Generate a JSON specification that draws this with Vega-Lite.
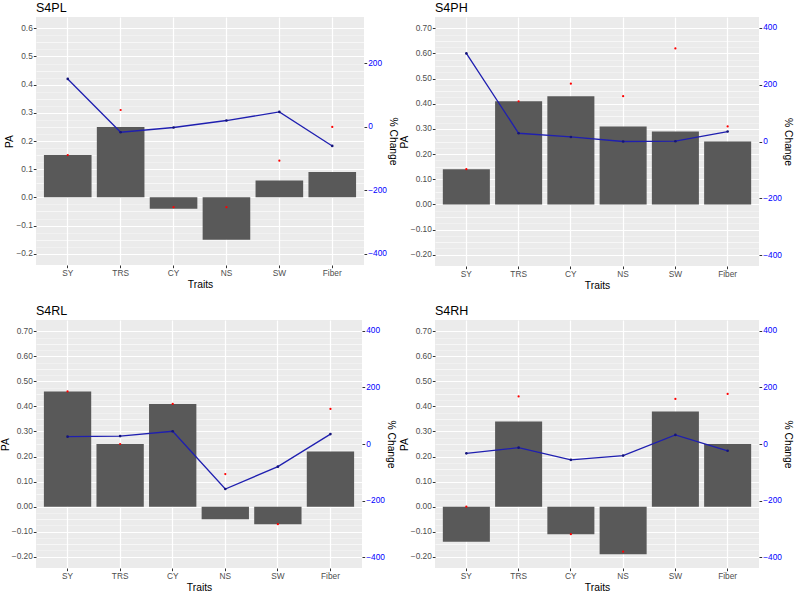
{
  "$schema": "https://vega.github.io/schema/vega-lite/v6.json",
  "background": "white",
  "padding": {"left": 0, "top": 1, "right": 2, "bottom": 1},
  "datasets": {
    "s4pl": [
      {"Trait": "SY", "PA": 0.15, "PA_ref": 0.15, "Change": 150},
      {"Trait": "TRS", "PA": 0.25, "PA_ref": 0.31, "Change": -18},
      {"Trait": "CY", "PA": -0.04, "PA_ref": -0.035, "Change": -3},
      {"Trait": "NS", "PA": -0.15, "PA_ref": -0.035, "Change": 19},
      {"Trait": "SW", "PA": 0.06, "PA_ref": 0.13, "Change": 46},
      {"Trait": "Fiber", "PA": 0.09, "PA_ref": 0.25, "Change": -61}
    ],
    "s4ph": [
      {"Trait": "SY", "PA": 0.14, "PA_ref": 0.14, "Change": 310},
      {"Trait": "TRS", "PA": 0.41, "PA_ref": 0.41, "Change": 29},
      {"Trait": "CY", "PA": 0.43, "PA_ref": 0.48, "Change": 16},
      {"Trait": "NS", "PA": 0.31, "PA_ref": 0.43, "Change": 0},
      {"Trait": "SW", "PA": 0.29, "PA_ref": 0.62, "Change": 1},
      {"Trait": "Fiber", "PA": 0.25, "PA_ref": 0.31, "Change": 35}
    ],
    "s4rl": [
      {"Trait": "SY", "PA": 0.46, "PA_ref": 0.46, "Change": 26},
      {"Trait": "TRS", "PA": 0.25, "PA_ref": 0.25, "Change": 28},
      {"Trait": "CY", "PA": 0.41, "PA_ref": 0.41, "Change": 45},
      {"Trait": "NS", "PA": -0.05, "PA_ref": 0.13, "Change": -159},
      {"Trait": "SW", "PA": -0.07, "PA_ref": -0.07, "Change": -80},
      {"Trait": "Fiber", "PA": 0.22, "PA_ref": 0.39, "Change": 35}
    ],
    "s4rh": [
      {"Trait": "SY", "PA": -0.14, "PA_ref": 0.0, "Change": -33},
      {"Trait": "TRS", "PA": 0.34, "PA_ref": 0.44, "Change": -13},
      {"Trait": "CY", "PA": -0.11, "PA_ref": -0.11, "Change": -56},
      {"Trait": "NS", "PA": -0.19, "PA_ref": -0.18, "Change": -41},
      {"Trait": "SW", "PA": 0.38, "PA_ref": 0.43, "Change": 32},
      {"Trait": "Fiber", "PA": 0.25, "PA_ref": 0.45, "Change": -24}
    ]
  },
  "columns": 2,
  "spacing": {"row": 13, "column": 1},
  "concat": [
    {
      "title": "S4PL",
      "width": 328,
      "height": 248,
      "data": {"name": "s4pl"},
      "layer": [
        {
          "layer": [
            {
              "mark": {"type": "bar", "color": "#595959"},
              "encoding": {
                "x": {"field": "Trait", "type": "nominal", "sort": ["SY", "TRS", "CY", "NS", "SW", "Fiber"], "scale": {"paddingInner": 0.1, "paddingOuter": 0.15}, "axis": {"title": "Traits", "labelAngle": 0, "bandPosition": 0.5, "grid": true, "gridWidth": 1.2}},
                "y": {
                  "field": "PA", "type": "quantitative",
                  "scale": {"domain": [-0.24, 0.64], "nice": false, "zero": false},
                  "axis": {
                    "title": "PA", "format": ".1f", "labelOverlap": false,
                    "values": [-0.2, -0.175, -0.15, -0.125, -0.1, -0.075, -0.05, -0.025, 0, 0.025, 0.05, 0.075, 0.1, 0.125, 0.15, 0.175, 0.2, 0.225, 0.25, 0.275, 0.3, 0.325, 0.35, 0.375, 0.4, 0.425, 0.45, 0.475, 0.5, 0.525, 0.55, 0.575, 0.6],
                    "labelExpr": "abs(datum.value*10 - round(datum.value*10)) < 0.001 ? datum.label : ''",
                    "tickOpacity": {"condition": {"test": "abs(datum.value*10 - round(datum.value*10)) < 0.001", "value": 1}, "value": 0},
                    "gridWidth": {"condition": {"test": "abs(datum.value*10 - round(datum.value*10)) < 0.001", "value": 1.2}, "value": 0.6},
                    "gridOpacity": {"condition": {"test": "abs(datum.value*20 - round(datum.value*20)) < 0.001", "value": 1}, "value": 0.5}
                  }
                }
              }
            },
            {
              "mark": {"type": "point", "filled": true, "color": "#FF0000", "size": 5, "opacity": 1},
              "encoding": {
                "x": {"field": "Trait", "type": "nominal", "sort": ["SY", "TRS", "CY", "NS", "SW", "Fiber"]},
                "y": {
                  "field": "PA_ref", "type": "quantitative",
                  "axis": {
                    "title": "PA", "format": ".1f", "labelOverlap": false,
                    "values": [-0.2, -0.175, -0.15, -0.125, -0.1, -0.075, -0.05, -0.025, 0, 0.025, 0.05, 0.075, 0.1, 0.125, 0.15, 0.175, 0.2, 0.225, 0.25, 0.275, 0.3, 0.325, 0.35, 0.375, 0.4, 0.425, 0.45, 0.475, 0.5, 0.525, 0.55, 0.575, 0.6],
                    "labelExpr": "abs(datum.value*10 - round(datum.value*10)) < 0.001 ? datum.label : ''",
                    "tickOpacity": {"condition": {"test": "abs(datum.value*10 - round(datum.value*10)) < 0.001", "value": 1}, "value": 0},
                    "gridWidth": {"condition": {"test": "abs(datum.value*10 - round(datum.value*10)) < 0.001", "value": 1.2}, "value": 0.6},
                    "gridOpacity": {"condition": {"test": "abs(datum.value*20 - round(datum.value*20)) < 0.001", "value": 1}, "value": 0.5}
                  }
                }
              }
            }
          ]
        },
        {
          "layer": [
            {
              "mark": {"type": "line", "color": "#1F1FB0", "strokeWidth": 1.3},
              "encoding": {
                "x": {"field": "Trait", "type": "nominal", "sort": ["SY", "TRS", "CY", "NS", "SW", "Fiber"]},
                "y": {
                  "field": "Change", "type": "quantitative",
                  "scale": {"domain": [-436, 345], "nice": false, "zero": false},
                  "axis": {"orient": "right", "title": "% Change", "grid": false, "values": [-400, -300, -200, -100, 0, 100, 200, 300], "labelColor": "#0000FF"}
                }
              }
            },
            {
              "mark": {"type": "point", "filled": true, "color": "#14147A", "size": 7, "opacity": 1},
              "encoding": {
                "x": {"field": "Trait", "type": "nominal", "sort": ["SY", "TRS", "CY", "NS", "SW", "Fiber"]},
                "y": {"field": "Change", "type": "quantitative"}
              }
            }
          ]
        }
      ],
      "resolve": {"scale": {"y": "independent"}}
    },
    {
      "title": "S4PH",
      "width": 324,
      "height": 249,
      "data": {"name": "s4ph"},
      "layer": [
        {
          "layer": [
            {
              "mark": {"type": "bar", "color": "#595959"},
              "encoding": {
                "x": {"field": "Trait", "type": "nominal", "sort": ["SY", "TRS", "CY", "NS", "SW", "Fiber"], "scale": {"paddingInner": 0.1, "paddingOuter": 0.15}, "axis": {"title": "Traits", "labelAngle": 0, "bandPosition": 0.5, "grid": true, "gridWidth": 1.2}},
                "y": {
                  "field": "PA", "type": "quantitative",
                  "scale": {"domain": [-0.245, 0.745], "nice": false, "zero": false},
                  "axis": {
                    "title": "PA", "format": ".2f", "labelOverlap": false,
                    "values": [-0.2, -0.175, -0.15, -0.125, -0.1, -0.075, -0.05, -0.025, 0, 0.025, 0.05, 0.075, 0.1, 0.125, 0.15, 0.175, 0.2, 0.225, 0.25, 0.275, 0.3, 0.325, 0.35, 0.375, 0.4, 0.425, 0.45, 0.475, 0.5, 0.525, 0.55, 0.575, 0.6, 0.625, 0.65, 0.675, 0.7],
                    "labelExpr": "abs(datum.value*10 - round(datum.value*10)) < 0.001 ? datum.label : ''",
                    "tickOpacity": {"condition": {"test": "abs(datum.value*10 - round(datum.value*10)) < 0.001", "value": 1}, "value": 0},
                    "gridWidth": {"condition": {"test": "abs(datum.value*10 - round(datum.value*10)) < 0.001", "value": 1.2}, "value": 0.6},
                    "gridOpacity": {"condition": {"test": "abs(datum.value*20 - round(datum.value*20)) < 0.001", "value": 1}, "value": 0.5}
                  }
                }
              }
            },
            {
              "mark": {"type": "point", "filled": true, "color": "#FF0000", "size": 5, "opacity": 1},
              "encoding": {
                "x": {"field": "Trait", "type": "nominal", "sort": ["SY", "TRS", "CY", "NS", "SW", "Fiber"]},
                "y": {
                  "field": "PA_ref", "type": "quantitative",
                  "axis": {
                    "title": "PA", "format": ".2f", "labelOverlap": false,
                    "values": [-0.2, -0.175, -0.15, -0.125, -0.1, -0.075, -0.05, -0.025, 0, 0.025, 0.05, 0.075, 0.1, 0.125, 0.15, 0.175, 0.2, 0.225, 0.25, 0.275, 0.3, 0.325, 0.35, 0.375, 0.4, 0.425, 0.45, 0.475, 0.5, 0.525, 0.55, 0.575, 0.6, 0.625, 0.65, 0.675, 0.7],
                    "labelExpr": "abs(datum.value*10 - round(datum.value*10)) < 0.001 ? datum.label : ''",
                    "tickOpacity": {"condition": {"test": "abs(datum.value*10 - round(datum.value*10)) < 0.001", "value": 1}, "value": 0},
                    "gridWidth": {"condition": {"test": "abs(datum.value*10 - round(datum.value*10)) < 0.001", "value": 1.2}, "value": 0.6},
                    "gridOpacity": {"condition": {"test": "abs(datum.value*20 - round(datum.value*20)) < 0.001", "value": 1}, "value": 0.5}
                  }
                }
              }
            }
          ]
        },
        {
          "layer": [
            {
              "mark": {"type": "line", "color": "#1F1FB0", "strokeWidth": 1.3},
              "encoding": {
                "x": {"field": "Trait", "type": "nominal", "sort": ["SY", "TRS", "CY", "NS", "SW", "Fiber"]},
                "y": {
                  "field": "Change", "type": "quantitative",
                  "scale": {"domain": [-438, 438], "nice": false, "zero": false},
                  "axis": {"orient": "right", "title": "% Change", "grid": false, "values": [-400, -300, -200, -100, 0, 100, 200, 300, 400], "labelColor": "#0000FF"}
                }
              }
            },
            {
              "mark": {"type": "point", "filled": true, "color": "#14147A", "size": 7, "opacity": 1},
              "encoding": {
                "x": {"field": "Trait", "type": "nominal", "sort": ["SY", "TRS", "CY", "NS", "SW", "Fiber"]},
                "y": {"field": "Change", "type": "quantitative"}
              }
            }
          ]
        }
      ],
      "resolve": {"scale": {"y": "independent"}}
    },
    {
      "title": "S4RL",
      "width": 326,
      "height": 248,
      "data": {"name": "s4rl"},
      "layer": [
        {
          "layer": [
            {
              "mark": {"type": "bar", "color": "#595959"},
              "encoding": {
                "x": {"field": "Trait", "type": "nominal", "sort": ["SY", "TRS", "CY", "NS", "SW", "Fiber"], "scale": {"paddingInner": 0.1, "paddingOuter": 0.15}, "axis": {"title": "Traits", "labelAngle": 0, "bandPosition": 0.5, "grid": true, "gridWidth": 1.2}},
                "y": {
                  "field": "PA", "type": "quantitative",
                  "scale": {"domain": [-0.245, 0.745], "nice": false, "zero": false},
                  "axis": {
                    "title": "PA", "format": ".2f", "labelOverlap": false,
                    "values": [-0.2, -0.175, -0.15, -0.125, -0.1, -0.075, -0.05, -0.025, 0, 0.025, 0.05, 0.075, 0.1, 0.125, 0.15, 0.175, 0.2, 0.225, 0.25, 0.275, 0.3, 0.325, 0.35, 0.375, 0.4, 0.425, 0.45, 0.475, 0.5, 0.525, 0.55, 0.575, 0.6, 0.625, 0.65, 0.675, 0.7],
                    "labelExpr": "abs(datum.value*10 - round(datum.value*10)) < 0.001 ? datum.label : ''",
                    "tickOpacity": {"condition": {"test": "abs(datum.value*10 - round(datum.value*10)) < 0.001", "value": 1}, "value": 0},
                    "gridWidth": {"condition": {"test": "abs(datum.value*10 - round(datum.value*10)) < 0.001", "value": 1.2}, "value": 0.6},
                    "gridOpacity": {"condition": {"test": "abs(datum.value*20 - round(datum.value*20)) < 0.001", "value": 1}, "value": 0.5}
                  }
                }
              }
            },
            {
              "mark": {"type": "point", "filled": true, "color": "#FF0000", "size": 5, "opacity": 1},
              "encoding": {
                "x": {"field": "Trait", "type": "nominal", "sort": ["SY", "TRS", "CY", "NS", "SW", "Fiber"]},
                "y": {
                  "field": "PA_ref", "type": "quantitative",
                  "axis": {
                    "title": "PA", "format": ".2f", "labelOverlap": false,
                    "values": [-0.2, -0.175, -0.15, -0.125, -0.1, -0.075, -0.05, -0.025, 0, 0.025, 0.05, 0.075, 0.1, 0.125, 0.15, 0.175, 0.2, 0.225, 0.25, 0.275, 0.3, 0.325, 0.35, 0.375, 0.4, 0.425, 0.45, 0.475, 0.5, 0.525, 0.55, 0.575, 0.6, 0.625, 0.65, 0.675, 0.7],
                    "labelExpr": "abs(datum.value*10 - round(datum.value*10)) < 0.001 ? datum.label : ''",
                    "tickOpacity": {"condition": {"test": "abs(datum.value*10 - round(datum.value*10)) < 0.001", "value": 1}, "value": 0},
                    "gridWidth": {"condition": {"test": "abs(datum.value*10 - round(datum.value*10)) < 0.001", "value": 1.2}, "value": 0.6},
                    "gridOpacity": {"condition": {"test": "abs(datum.value*20 - round(datum.value*20)) < 0.001", "value": 1}, "value": 0.5}
                  }
                }
              }
            }
          ]
        },
        {
          "layer": [
            {
              "mark": {"type": "line", "color": "#1F1FB0", "strokeWidth": 1.3},
              "encoding": {
                "x": {"field": "Trait", "type": "nominal", "sort": ["SY", "TRS", "CY", "NS", "SW", "Fiber"]},
                "y": {
                  "field": "Change", "type": "quantitative",
                  "scale": {"domain": [-438, 438], "nice": false, "zero": false},
                  "axis": {"orient": "right", "title": "% Change", "grid": false, "values": [-400, -300, -200, -100, 0, 100, 200, 300, 400], "labelColor": "#0000FF"}
                }
              }
            },
            {
              "mark": {"type": "point", "filled": true, "color": "#14147A", "size": 7, "opacity": 1},
              "encoding": {
                "x": {"field": "Trait", "type": "nominal", "sort": ["SY", "TRS", "CY", "NS", "SW", "Fiber"]},
                "y": {"field": "Change", "type": "quantitative"}
              }
            }
          ]
        }
      ],
      "resolve": {"scale": {"y": "independent"}}
    },
    {
      "title": "S4RH",
      "width": 324,
      "height": 248,
      "data": {"name": "s4rh"},
      "layer": [
        {
          "layer": [
            {
              "mark": {"type": "bar", "color": "#595959"},
              "encoding": {
                "x": {"field": "Trait", "type": "nominal", "sort": ["SY", "TRS", "CY", "NS", "SW", "Fiber"], "scale": {"paddingInner": 0.1, "paddingOuter": 0.15}, "axis": {"title": "Traits", "labelAngle": 0, "bandPosition": 0.5, "grid": true, "gridWidth": 1.2}},
                "y": {
                  "field": "PA", "type": "quantitative",
                  "scale": {"domain": [-0.245, 0.745], "nice": false, "zero": false},
                  "axis": {
                    "title": "PA", "format": ".2f", "labelOverlap": false,
                    "values": [-0.2, -0.175, -0.15, -0.125, -0.1, -0.075, -0.05, -0.025, 0, 0.025, 0.05, 0.075, 0.1, 0.125, 0.15, 0.175, 0.2, 0.225, 0.25, 0.275, 0.3, 0.325, 0.35, 0.375, 0.4, 0.425, 0.45, 0.475, 0.5, 0.525, 0.55, 0.575, 0.6, 0.625, 0.65, 0.675, 0.7],
                    "labelExpr": "abs(datum.value*10 - round(datum.value*10)) < 0.001 ? datum.label : ''",
                    "tickOpacity": {"condition": {"test": "abs(datum.value*10 - round(datum.value*10)) < 0.001", "value": 1}, "value": 0},
                    "gridWidth": {"condition": {"test": "abs(datum.value*10 - round(datum.value*10)) < 0.001", "value": 1.2}, "value": 0.6},
                    "gridOpacity": {"condition": {"test": "abs(datum.value*20 - round(datum.value*20)) < 0.001", "value": 1}, "value": 0.5}
                  }
                }
              }
            },
            {
              "mark": {"type": "point", "filled": true, "color": "#FF0000", "size": 5, "opacity": 1},
              "encoding": {
                "x": {"field": "Trait", "type": "nominal", "sort": ["SY", "TRS", "CY", "NS", "SW", "Fiber"]},
                "y": {
                  "field": "PA_ref", "type": "quantitative",
                  "axis": {
                    "title": "PA", "format": ".2f", "labelOverlap": false,
                    "values": [-0.2, -0.175, -0.15, -0.125, -0.1, -0.075, -0.05, -0.025, 0, 0.025, 0.05, 0.075, 0.1, 0.125, 0.15, 0.175, 0.2, 0.225, 0.25, 0.275, 0.3, 0.325, 0.35, 0.375, 0.4, 0.425, 0.45, 0.475, 0.5, 0.525, 0.55, 0.575, 0.6, 0.625, 0.65, 0.675, 0.7],
                    "labelExpr": "abs(datum.value*10 - round(datum.value*10)) < 0.001 ? datum.label : ''",
                    "tickOpacity": {"condition": {"test": "abs(datum.value*10 - round(datum.value*10)) < 0.001", "value": 1}, "value": 0},
                    "gridWidth": {"condition": {"test": "abs(datum.value*10 - round(datum.value*10)) < 0.001", "value": 1.2}, "value": 0.6},
                    "gridOpacity": {"condition": {"test": "abs(datum.value*20 - round(datum.value*20)) < 0.001", "value": 1}, "value": 0.5}
                  }
                }
              }
            }
          ]
        },
        {
          "layer": [
            {
              "mark": {"type": "line", "color": "#1F1FB0", "strokeWidth": 1.3},
              "encoding": {
                "x": {"field": "Trait", "type": "nominal", "sort": ["SY", "TRS", "CY", "NS", "SW", "Fiber"]},
                "y": {
                  "field": "Change", "type": "quantitative",
                  "scale": {"domain": [-438, 438], "nice": false, "zero": false},
                  "axis": {"orient": "right", "title": "% Change", "grid": false, "values": [-400, -300, -200, -100, 0, 100, 200, 300, 400], "labelColor": "#0000FF"}
                }
              }
            },
            {
              "mark": {"type": "point", "filled": true, "color": "#14147A", "size": 7, "opacity": 1},
              "encoding": {
                "x": {"field": "Trait", "type": "nominal", "sort": ["SY", "TRS", "CY", "NS", "SW", "Fiber"]},
                "y": {"field": "Change", "type": "quantitative"}
              }
            }
          ]
        }
      ],
      "resolve": {"scale": {"y": "independent"}}
    }
  ],
  "config": {
    "font": "Liberation Sans",
    "view": {"fill": "#EBEBEB", "stroke": null},
    "axis": {
      "domain": false,
      "labelFontSize": 8.3,
      "labelColor": "#4D4D4D",
      "labelPadding": 1,
      "tickColor": "#333333",
      "tickSize": 2.7,
      "titleFontSize": 10.3,
      "titleFontWeight": "normal",
      "titleColor": "#000000",
      "titlePadding": 1,
      "gridColor": "#FFFFFF"
    },
    "axisX": {"titlePadding": 2},
    "title": {"anchor": "start", "frame": "group", "fontSize": 12.5, "fontWeight": "normal", "color": "#000000", "offset": 3}
  }
}
